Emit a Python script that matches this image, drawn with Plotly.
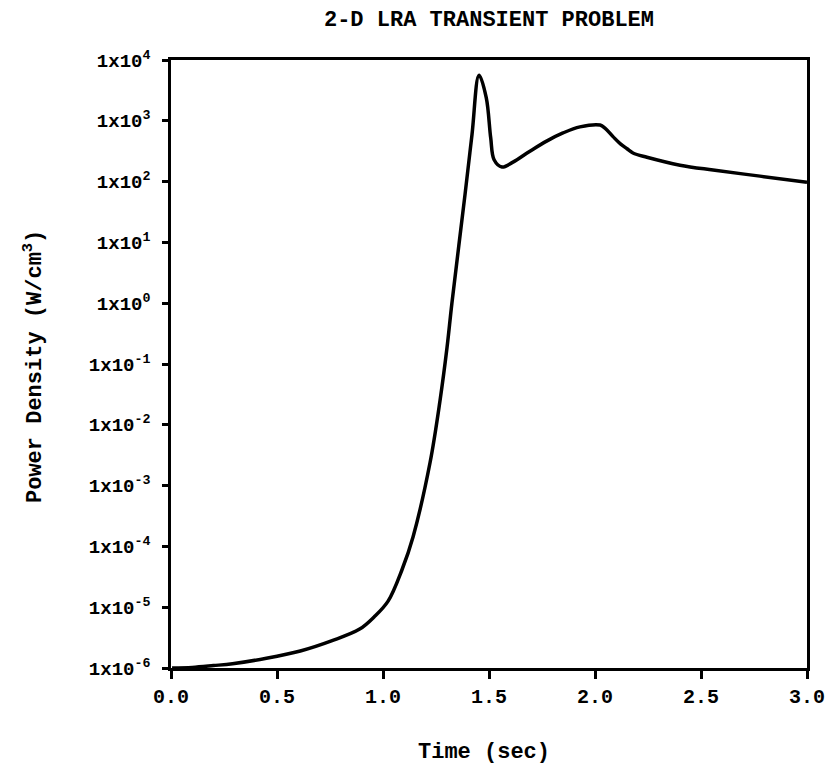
import plotly.graph_objects as go

# Time (sec)
time_s = [0.005, 0.10, 0.20, 0.29, 0.45, 0.61, 0.76, 0.89, 0.958, 1.024, 1.09, 1.142, 1.222,
          1.269, 1.302, 1.325, 1.387, 1.42, 1.453, 1.487, 1.508, 1.524, 1.561, 1.613,
          1.693, 1.774, 1.849, 1.929, 2.024, 2.047, 2.085, 2.12, 2.151, 2.179, 2.245, 2.401,
          2.557, 2.778, 3.00]
# log10 of power density (W/cm^3)
log_power = [-6.00, -5.99, -5.96, -5.93, -5.84, -5.72, -5.55, -5.36, -5.16, -4.90, -4.38, -3.84, -2.62,
             -1.60, -0.73, 0.00, 1.79, 2.78, 3.75, 3.38, 2.72, 2.36, 2.24, 2.32,
             2.50, 2.67, 2.80, 2.90, 2.93, 2.88, 2.74, 2.62, 2.54, 2.47, 2.40, 2.27,
             2.19, 2.09, 1.99]
power = [10 ** v for v in log_power]

y_exponents = [-6, -5, -4, -3, -2, -1, 0, 1, 2, 3, 4]
y_tickvals = [10.0 ** e for e in y_exponents]
y_ticktext = [f"1x10<sup>{e}</sup>" for e in y_exponents]
x_tickvals = [0.0, 0.5, 1.0, 1.5, 2.0, 2.5, 3.0]
x_ticktext = ["0.0", "0.5", "1.0", "1.5", "2.0", "2.5", "3.0"]

FONT = "Liberation Mono"
W, H = 828, 767
L, T = 171, 60
R = W - 807
B = H - 668
plot_w = W - L - R
plot_h = H - T - B

fig = go.Figure()
fig.add_trace(go.Scatter(
    x=time_s, y=power, mode="lines",
    line=dict(color="black", width=3.5, shape="spline", smoothing=1.0),
    showlegend=False, hoverinfo="skip",
))

fig.update_layout(
    width=W, height=H,
    margin=dict(l=L, r=R, t=T, b=B, autoexpand=False),
    paper_bgcolor="white", plot_bgcolor="white",
    font=dict(family=FONT, color="black", size=18, weight="bold"),
    hovermode=False,
    title=dict(text="2-D LRA TRANSIENT PROBLEM",
               x=(L + plot_w / 2) / W, xanchor="center",
               y=1 - 18.5 / H, yanchor="middle", yref="container",
               font=dict(family=FONT, size=22, color="black", weight="bold")),
    annotations=[
        dict(text="Time (sec)", xref="paper", yref="paper",
             x=(484 - L) / plot_w, y=-(752 - (T + plot_h)) / plot_h,
             xanchor="center", yanchor="middle", showarrow=False,
             font=dict(family=FONT, size=22, color="black", weight="bold")),
        dict(text="Power Density (W/cm<sup>3</sup>)", xref="paper", yref="paper",
             x=(33 - L) / plot_w, y=1 - (367 - T) / plot_h,
             xanchor="center", yanchor="middle", textangle=-90, showarrow=False,
             font=dict(family=FONT, size=22, color="black", weight="bold")),
    ],
)

fig.update_xaxes(
    range=[0, 3], tickvals=x_tickvals, ticktext=x_ticktext, automargin=False,
    showgrid=False, zeroline=False,
    showline=True, linecolor="black", linewidth=2.5, mirror=True,
    ticks="outside", ticklen=8, tickwidth=2.5, tickcolor="black",
    tickfont=dict(family=FONT, size=20, weight="bold"),
)
fig.update_yaxes(
    type="log", range=[-6, 4], tickvals=y_tickvals, ticktext=y_ticktext, automargin=False,
    showgrid=False, zeroline=False,
    showline=True, linecolor="black", linewidth=2.5, mirror=True,
    ticks="outside", ticklen=6, tickwidth=2.5, tickcolor="black",
    ticklabelstandoff=8,
    tickfont=dict(family=FONT, size=19, weight="bold"),
)

fig.write_html(
    "out.html",
    config=dict(displayModeBar=False),
    post_script="document.body.style.margin='0px';document.body.style.overflow='hidden';",
)
